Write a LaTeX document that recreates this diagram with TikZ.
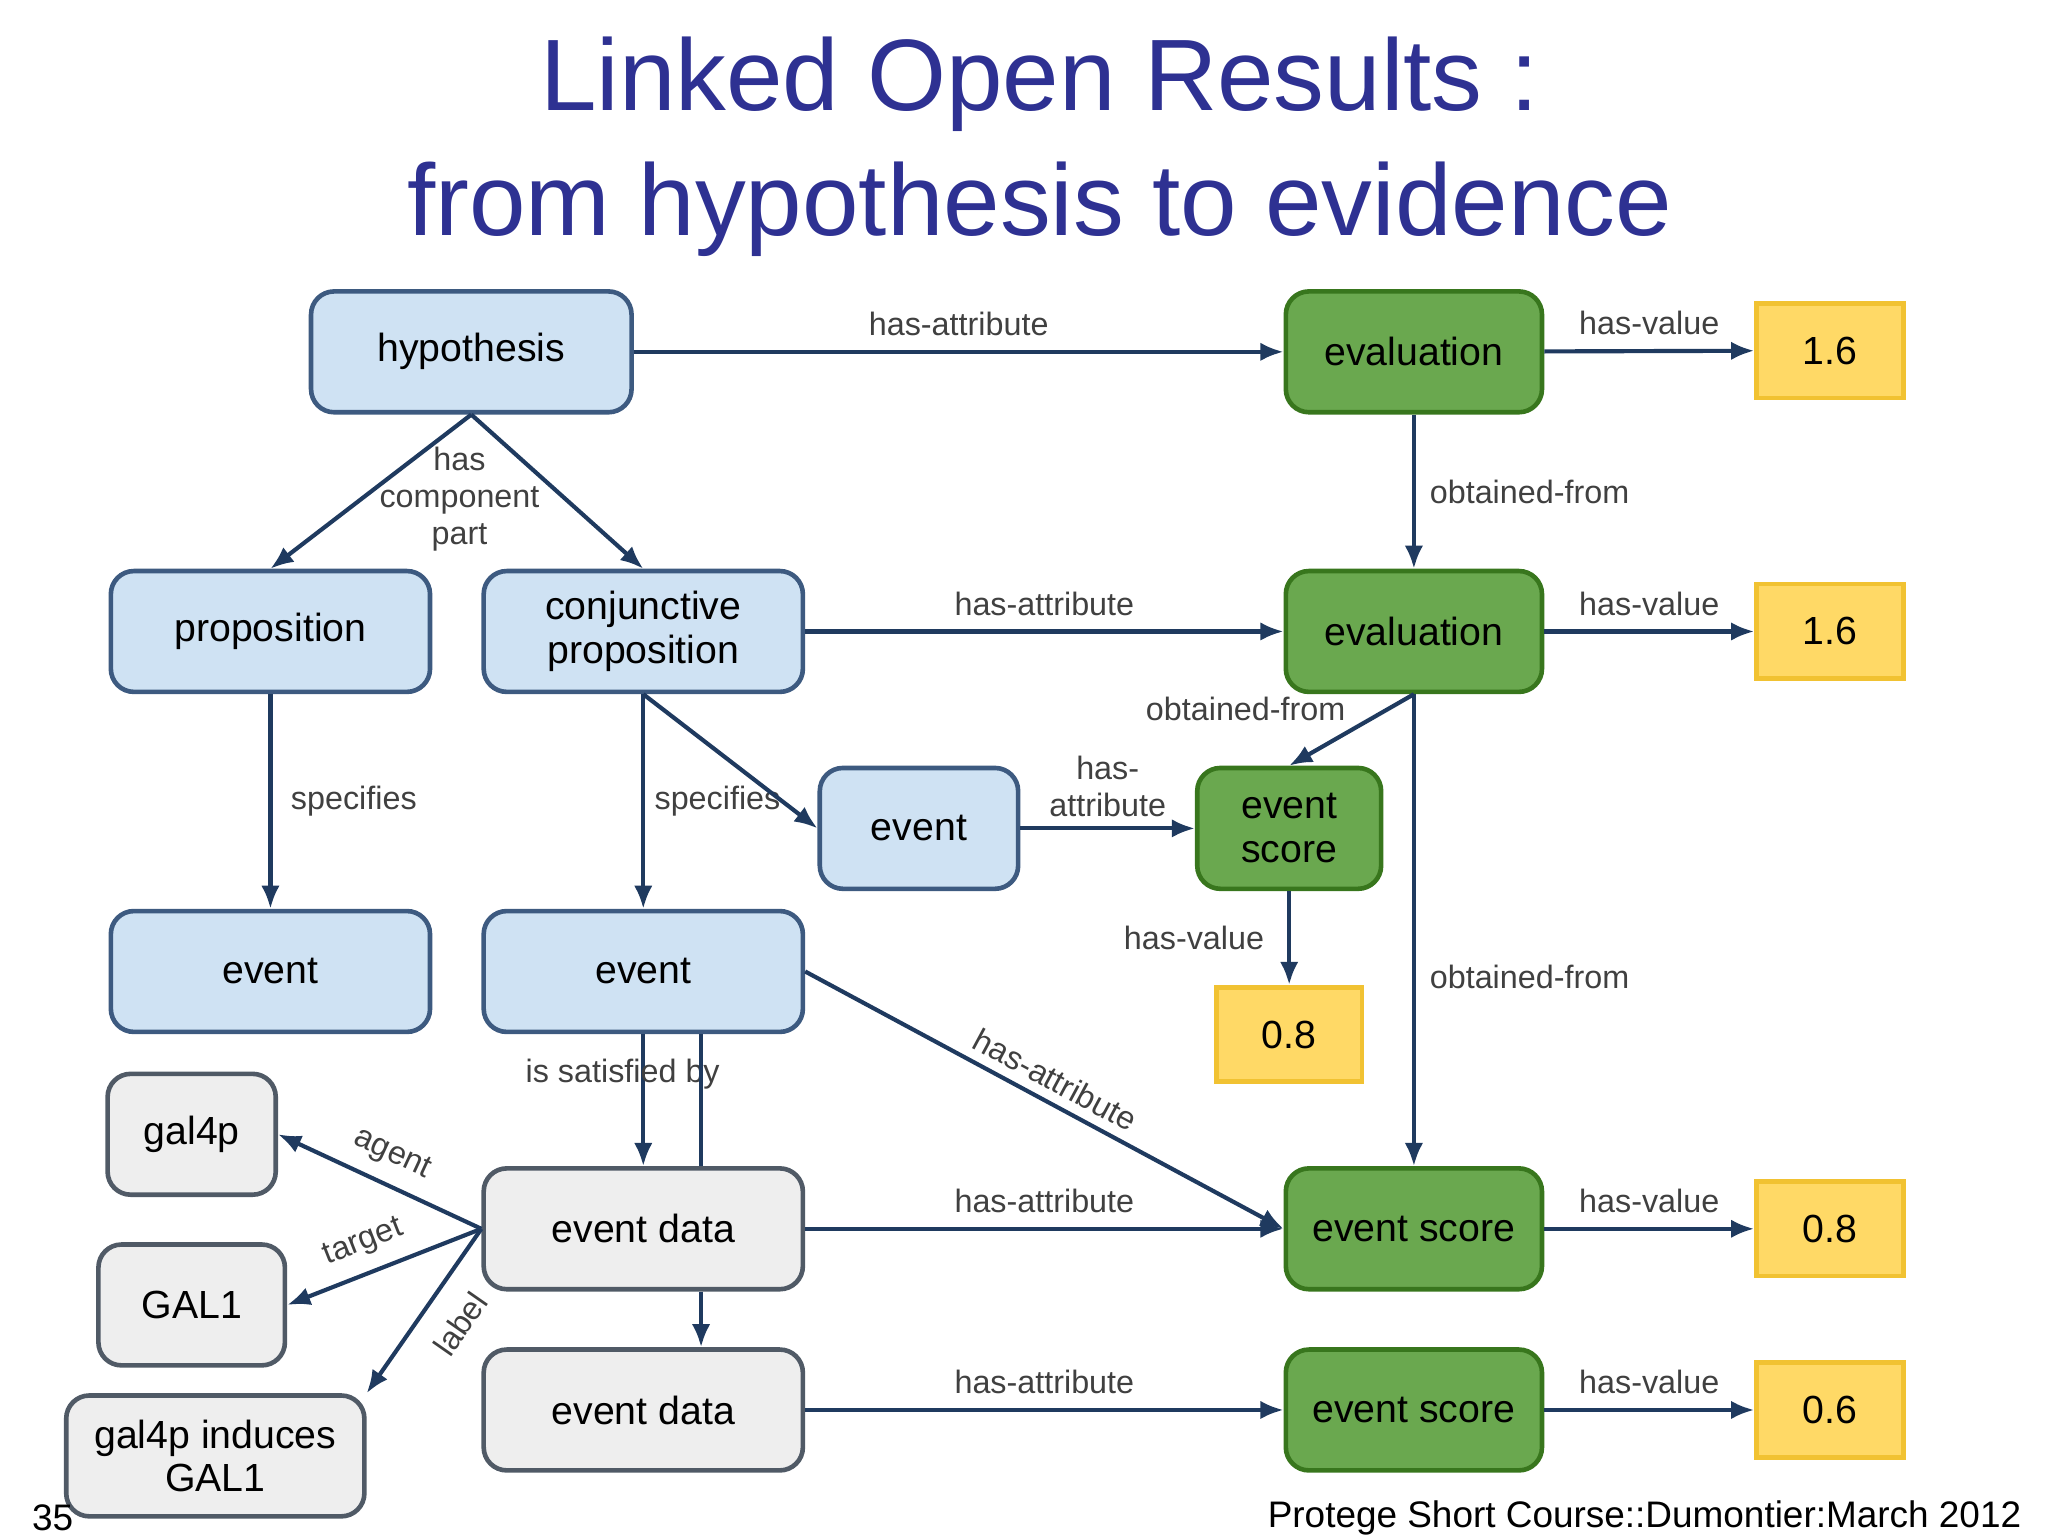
\documentclass[tikz,border=0pt]{standalone}
\usepackage{fontspec}
\setmainfont{Liberation Sans}
\usetikzlibrary{arrows.meta}
\definecolor{navy}{HTML}{1F3A5F}
\definecolor{titleblue}{HTML}{2E3192}
\definecolor{bfill}{HTML}{CFE2F3}
\definecolor{bline}{HTML}{3D5A80}
\definecolor{gfill}{HTML}{6AA84F}
\definecolor{gline}{HTML}{38761D}
\definecolor{yfill}{HTML}{FFD966}
\definecolor{yline}{HTML}{F1C232}
\definecolor{efill}{HTML}{EEEEEE}
\definecolor{eline}{HTML}{505A66}
\begin{document}
\begin{tikzpicture}[x=0.01cm,y=-0.01cm,
    box/.style={draw, rounded corners=5pt, line width=1pt, minimum height=0.92cm, align=center, font=\fontsize{8.5}{9.5}\selectfont, inner sep=1pt},
    blue/.style={box, fill=bfill, draw=bline},
    green/.style={box, fill=gfill, draw=gline},
    grey/.style={box, fill=efill, draw=eline},
    val/.style={draw=yline, fill=yfill, line width=1pt, minimum height=0.72cm, minimum width=1.12cm, font=\fontsize{8.5}{9.5}\selectfont},
    lbl/.style={font=\fontsize{7}{8}\selectfont, text=black!75, inner sep=1pt},
    arr/.style={draw=navy, line width=0.9pt, -{Latex[length=5pt,width=4pt]}},
    ln/.style={draw=navy, line width=0.9pt}]
    \useasboundingbox (0,0) rectangle (1560,1170);
    %title
    \node[text=titleblue, font=\fontsize{22}{27}\selectfont, align=center] (title) at (792,112) {Linked Open Results :\\from hypothesis to evidence};
    %nodes
    \node[blue, minimum width=2.44cm] (hyp) at (359,268) {hypothesis};
    \node[green, minimum width=1.95cm] (eval1) at (1077,268) {evaluation};
    \node[val] (v1) at (1394,267) {1.6};
    \node[blue, minimum width=2.43cm] (prop) at (206,481) {proposition};
    \node[blue, minimum width=2.43cm] (conj) at (490,481) {conjunctive\\proposition};
    \node[green, minimum width=1.95cm] (eval2) at (1077,481) {evaluation};
    \node[val] (v2) at (1394,481) {1.6};
    \node[blue, minimum width=1.51cm] (evm) at (700,631) {event};
    \node[green, minimum width=1.40cm] (esm) at (982,631) {event\\score};
    \node[blue, minimum width=2.43cm] (evl) at (206,740) {event};
    \node[blue, minimum width=2.43cm] (evc) at (490,740) {event};
    \node[val, minimum width=1.11cm] (v3) at (982,788) {0.8};
    \node[grey, minimum width=1.28cm] (gal4p) at (146,864) {gal4p};
    \node[grey, minimum width=2.43cm] (ed1) at (490,936) {event data};
    \node[green, minimum width=1.95cm] (es1) at (1077,936) {event score};
    \node[val] (v4) at (1394,936) {0.8};
    \node[grey, minimum width=1.42cm] (gal1) at (146,994) {GAL1};
    \node[grey, minimum width=2.27cm] (ind) at (164,1109) {gal4p induces\\GAL1};
    \node[grey, minimum width=2.43cm] (ed2) at (490,1074) {event data};
    \node[green, minimum width=1.95cm] (es2) at (1077,1074) {event score};
    \node[val] (v5) at (1394,1074) {0.6};
    %footer
    \node[anchor=west, font=\fontsize{8}{9}\selectfont] (pg) at (12,1156) {35};
    \node[anchor=east, font=\fontsize{8}{9}\selectfont] (foot) at (1552,1156) {Protege Short Course::Dumontier:March 2012};

    %hypothesis row
    \draw[arr] (hyp) -- (eval1) node[lbl, midway, above=2pt] {has-attribute};
    \draw[arr] (eval1) -- (v1) node[lbl, midway, above=2pt] {has-value};
    \draw[arr] (hyp.south) -- (prop.north);
    \draw[arr] (hyp.south) -- (conj.north);
    \node[lbl, align=center] (hcp) at (350,380) {has\\component\\part};
    \draw[arr] (eval1) -- (eval2) node[lbl, midway, right=2pt] {obtained-from};
    %conjunctive row
    \draw[arr] (conj) -- (eval2) node[lbl, midway, above=2pt] {has-attribute};
    \draw[arr] (eval2) -- (v2) node[lbl, midway, above=2pt] {has-value};
    \draw[arr] (prop) -- (evl) node[lbl, midway, right=3pt] {specifies};
    \draw[arr] (conj.south) -- (evc.north) node[lbl, midway, right=1pt] {specifies};
    \draw[arr] (conj.south) -- (evm.west);
    \draw[arr] (evm) -- (esm) node[lbl, midway, above=1pt, align=center] {has-\\attribute};
    \draw[arr] (eval2.south) -- (esm.north) node[lbl, pos=0.2, left=8pt] {obtained-from};
    \draw[arr] (esm) -- (v3) node[lbl, midway, left=4pt] {has-value};
    \draw[arr] (eval2.south) -- (es1.north) node[lbl, pos=0.6, right=2pt] {obtained-from};
    \draw[arr] (evc.east) -- (es1.west) node[lbl, pos=0.5, sloped, above=1pt] {has-attribute};
    %event data
    \draw[arr] (evc.south) -- (ed1.north) node[lbl, pos=0.3, left=-18pt] {is satisfied by};
    \draw[ln] ([xshift=0.44cm]evc.south) -- ([xshift=0.44cm]ed1.north);
    \draw[arr] ([xshift=0.44cm]ed1.south) -- ([xshift=0.44cm]ed2.north);
    \draw[arr] (ed1.west) -- (gal4p.east) node[lbl, midway, sloped, above=2pt] {agent};
    \draw[arr] (ed1.west) -- (gal1.east) node[lbl, pos=0.55, sloped, above=2pt] {target};
    \draw[arr] (ed1.west) -- (ind.north east) node[lbl, pos=0.45, sloped, below=4pt] {label};
    \draw[arr] (ed1) -- (es1) node[lbl, midway, above=2pt] {has-attribute};
    \draw[arr] (es1) -- (v4) node[lbl, midway, above=2pt] {has-value};
    \draw[arr] (ed2) -- (es2) node[lbl, midway, above=2pt] {has-attribute};
    \draw[arr] (es2) -- (v5) node[lbl, midway, above=2pt] {has-value};
\end{tikzpicture}
\end{document}
